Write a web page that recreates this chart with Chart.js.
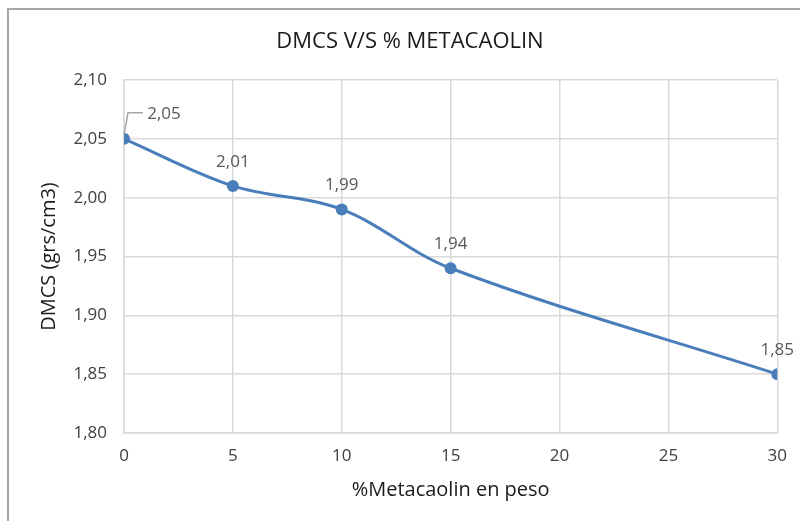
<!DOCTYPE html>
<html>
<head>
<meta charset="utf-8">
<script src="https://cdn.jsdelivr.net/npm/chart.js@4"></script>
<style>
  html, body { margin: 0; padding: 0; background: #ffffff; }
  canvas { display: block; }
</style>
</head>
<body>
<canvas id="c" width="800" height="521"></canvas>
<script>
// Metakaolin content (% by weight) and measured DMCS (g/cm3)
const metacaolin = [0, 5, 10, 15, 30];
const dmcs = [2.05, 2.01, 1.99, 1.94, 1.85];
const yTicks = [1.80, 1.85, 1.90, 1.95, 2.00, 2.05, 2.10];
const xTicks = [0, 5, 10, 15, 20, 25, 30];
const chartTitle = 'DMCS V/S % METACAOLIN';

const FONT = "'Open Sans', 'Liberation Sans', sans-serif";
const fmt = v => v.toFixed(2).replace('.', ',');

// Outer frame of the chart object and its title (the frame runs past the right/bottom edge)
const framePlugin = {
  id: 'frame',
  beforeDraw(chart) {
    const ctx = chart.ctx;
    ctx.save();
    ctx.strokeStyle = '#a6a6a6';
    ctx.lineWidth = 2;
    ctx.strokeRect(8, 9, 820, 540);
    ctx.font = "22px " + FONT;
    ctx.fillStyle = '#1a1a1a';
    ctx.textAlign = 'center';
    ctx.textBaseline = 'middle';
    ctx.fillText(chartTitle, 410, 42);
    ctx.restore();
  }
};

// Value labels above each point; the first one sits off to the side with a leader line
const valueLabels = {
  id: 'valueLabels',
  afterDatasetsDraw(chart) {
    const ctx = chart.ctx;
    const meta = chart.getDatasetMeta(0);
    ctx.save();
    ctx.font = "17px " + FONT;
    ctx.fillStyle = '#595959';
    ctx.textAlign = 'center';
    ctx.textBaseline = 'middle';
    meta.data.forEach((pt, i) => {
      const txt = fmt(dmcs[i]);
      if (i === 0) {
        ctx.strokeStyle = '#a6a6a6';
        ctx.lineWidth = 1.5;
        ctx.beginPath();
        ctx.moveTo(pt.x, pt.y - 4);
        ctx.lineTo(pt.x + 4, pt.y - 26);
        ctx.lineTo(pt.x + 19, pt.y - 26);
        ctx.stroke();
        ctx.fillText(txt, pt.x + 40, pt.y - 25);
      } else {
        ctx.fillText(txt, pt.x, pt.y - 24);
      }
    });
    ctx.restore();
  }
};

new Chart(document.getElementById('c'), {
  type: 'line',
  data: {
    datasets: [{
      data: metacaolin.map((x, i) => ({ x: x, y: dmcs[i] })),
      borderColor: '#4a7ebb',
      backgroundColor: '#4a7ebb',
      borderWidth: 3,
      pointRadius: 6,
      pointBorderWidth: 0,
      tension: 0.35,
      fill: false
    }]
  },
  options: {
    responsive: false,
    animation: false,
    events: [],
    layout: { padding: { left: 7, right: 22, top: 80, bottom: 0 } },
    plugins: {
      legend: { display: false },
      tooltip: { enabled: false },
      title: { display: false }
    },
    scales: {
      x: {
        type: 'linear',
        min: 0, max: 30,
        afterBuildTicks(s) { s.ticks = xTicks.map(v => ({ value: v })); },
        afterFit(s) { s.height = 88; },
        grid: { color: '#d9d9d9', lineWidth: 1.5, drawTicks: false },
        border: { color: '#d9d9d9', width: 1.5 },
        ticks: { color: '#404040', font: { family: FONT, size: 17 }, padding: 13 },
        title: {
          display: true,
          text: '%Metacaolin en peso',
          color: '#1a1a1a',
          font: { family: FONT, size: 20 },
          padding: { top: 0, bottom: 19 }
        }
      },
      y: {
        type: 'linear',
        min: 1.80, max: 2.10,
        afterBuildTicks(s) { s.ticks = yTicks.map(v => ({ value: v })); },
        afterFit(s) { s.width = 117; },
        grid: { color: '#d9d9d9', lineWidth: 1.5, drawTicks: false },
        border: { color: '#d9d9d9', width: 1.5 },
        ticks: { color: '#404040', font: { family: FONT, size: 17 }, padding: 17,
                 callback: v => fmt(v) },
        title: {
          display: true,
          text: 'DMCS (grs/cm3)',
          color: '#1a1a1a',
          font: { family: FONT, size: 20 },
          padding: { top: 30, bottom: 0 }
        }
      }
    }
  },
  plugins: [framePlugin, valueLabels]
});
</script>
</body>
</html>
